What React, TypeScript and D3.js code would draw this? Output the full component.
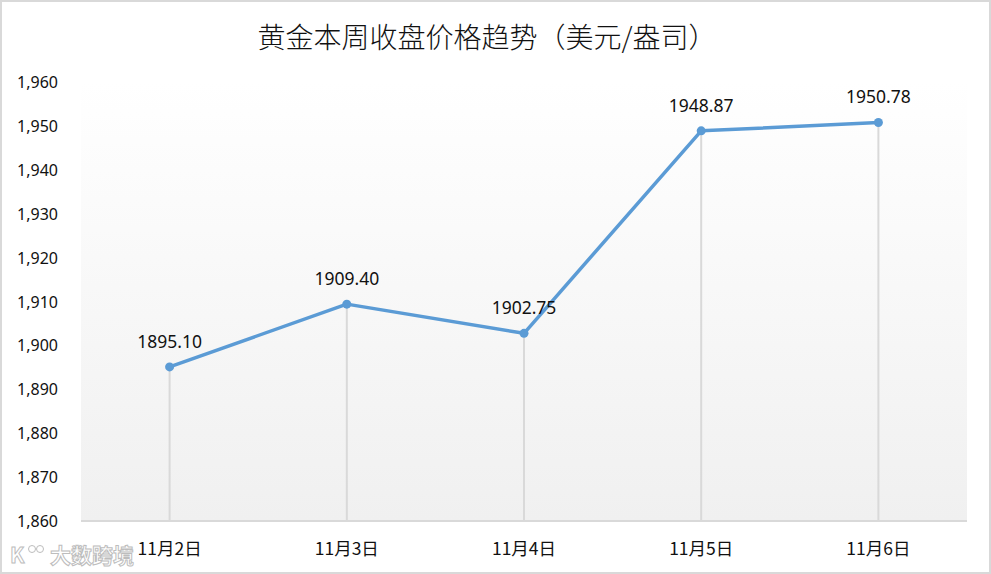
import React from "react";
import * as d3 from "d3";

const categories = ["11月2日", "11月3日", "11月4日", "11月5日", "11月6日"];
const values = [1895.1, 1909.4, 1902.75, 1948.87, 1950.78];
const yTicks = [1860, 1870, 1880, 1890, 1900, 1910, 1920, 1930, 1940, 1950, 1960];
const title = "黄金本周收盘价格趋势（美元/盎司）";

const W = 991;
const H = 574;
const M = { left: 81, right: 24, top: 82, bottom: 53 };

export default function App() {
  const x = d3
    .scaleBand<string>()
    .domain(categories)
    .range([M.left, W - M.right])
    .paddingInner(0)
    .paddingOuter(0);
  const y = d3.scaleLinear().domain([1860, 1960]).range([H - M.bottom, M.top]);
  const cx = (c: string) => (x(c) as number) + x.bandwidth() / 2;
  const pts = categories.map((c, i) => [cx(c), y(values[i])] as [number, number]);
  const line = d3.line()(pts) as string;
  const fmt = d3.format(",");
  const font = "'Noto Sans', 'Noto Sans CJK SC', sans-serif";

  return (
    <svg
      width={W}
      height={H}
      style={{ position: "absolute", left: 0, top: 0, background: "#fff" }}
      fontFamily={font}
    >
      <defs>
        <linearGradient id="bg" x1="0" y1="0" x2="0" y2="1">
          <stop offset="0" stopColor="#ffffff" />
          <stop offset="1" stopColor="#f0f0f0" />
        </linearGradient>
      </defs>
      <rect x={1} y={1} width={W - 2} height={H - 2} fill="#fff" stroke="#d9d9d9" strokeWidth={2} />
      <rect
        x={M.left}
        y={M.top}
        width={W - M.left - M.right}
        height={H - M.top - M.bottom}
        fill="url(#bg)"
      />
      <text
        x={487}
        y={48}
        textAnchor="middle"
        fontSize={28}
        fontWeight={300}
        fill="#111"
        fontFamily="'Noto Sans CJK SC', sans-serif"
      >
        {title}
      </text>
      {yTicks.map((t) => (
        <text key={t} x={58} y={y(t) + 6} textAnchor="end" fontSize={16} fill="#111">
          {fmt(t)}
        </text>
      ))}
      {categories.map((c, i) => (
        <line
          key={"d" + c}
          x1={cx(c)}
          x2={cx(c)}
          y1={y(values[i])}
          y2={H - M.bottom}
          stroke="#d9d9d9"
          strokeWidth={2}
        />
      ))}
      <line
        x1={M.left}
        x2={W - M.right}
        y1={H - M.bottom}
        y2={H - M.bottom}
        stroke="#d9d9d9"
        strokeWidth={2}
      />
      {categories.map((c) => (
        <text
          key={"x" + c}
          x={cx(c)}
          y={555}
          textAnchor="middle"
          fontSize={17.5}
          fill="#111"
          fontFamily="'Noto Sans CJK SC', sans-serif"
        >
          {c}
        </text>
      ))}
      <path d={line} fill="none" stroke="#5b9bd5" strokeWidth={3.5} strokeLinejoin="round" />
      {pts.map((p, i) => (
        <circle key={"p" + i} cx={p[0]} cy={p[1]} r={4.5} fill="#5b9bd5" />
      ))}
      {pts.map((p, i) => (
        <text key={"l" + i} x={p[0]} y={p[1] - 19} textAnchor="middle" fontSize={17.5} fill="#111">
          {values[i].toFixed(2)}
        </text>
      ))}
      <g fontFamily="'Noto Sans CJK SC', sans-serif">
        <text
          x={50}
          y={563}
          fontSize={21}
          fontWeight={700}
          fill="#fff"
          stroke="#bdbdbd"
          strokeWidth={1}
        >
          大数跨境
        </text>
        <text x={10} y={563} fontSize={21} fontWeight={700} fill="#fff" stroke="#bdbdbd" strokeWidth={1}>
          K
        </text>
        <circle cx={32} cy={549} r={3.5} fill="#fff" stroke="#bdbdbd" />
        <circle cx={40} cy={549} r={3.5} fill="#fff" stroke="#bdbdbd" />
      </g>
    </svg>
  );
}
